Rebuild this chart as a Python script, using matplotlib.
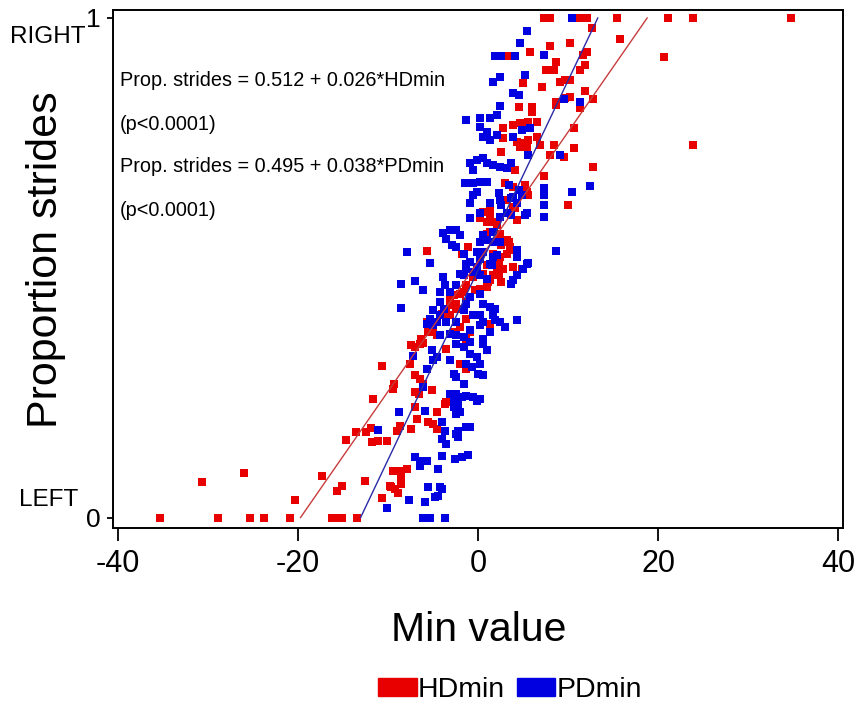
import matplotlib
matplotlib.use("Agg")
import matplotlib.pyplot as plt
from matplotlib.patches import Patch
import numpy as np

# ---------------- data ----------------
hd_x = [-35.3, -28.9, -25.3, -23.8, -20.9, -16.2, -15.7, -15.1, -13.4,
        -30.6, -26.0, -20.3, -17.3, -15.6, -15.1, -12.5, -10.6, -9.6, -9.4,
        -14.6, -13.5, -12.4, -11.9, -11.8, -11.1, -10.1, -11.6, -10.6, -9.3, -9.4, -9.0, -8.7,
        -7.4, -6.4, -7.0, -7.6, -7.0, -6.4, -6.1, -7.0, -6.6, -5.1, -6.8, -7.0, -5.5, -5.0, -4.6, -4.6, -3.5, -7.4,
        -8.7, -7.9, -8.5, -9.8, -8.5, -9.2, -8.9, -3.7,
        -4.0, -4.6, -5.1, -5.5, -6.3, -3.5, -3.1, -2.0, -1.3, -3.1, -2.4, -3.5, 1.3,
        -1.6, -0.5, 0.6, 1.3, 1.0, 2.1, 2.6, 4.9,
        1.3, 0.6, 1.3, 0.2, 1.0, 1.9, 1.3, 2.1, 2.3, -5.7, -1.8, -1.1, 1.0, 1.7, 1.1, 0.2, -1.3, -1.6,
        -0.9, -0.3, -2.7, -2.0, -1.3, -3.1, -2.4, -1.6, -3.1, -2.7, -2.0, -1.3, -0.9, -1.3, -4.6, -5.7, -5.0, -6.1,
        3.0, 5.2, 5.6, 4.1, 4.3, 2.6, 3.4, 3.6, 3.7, 2.4, 2.3, 2.8, 2.3, 7.3, 10.0,
        7.3, 8.0, 11.3, 12.1, 15.4, 21.1, 23.9, 34.7,
        15.8, 20.6, 12.6, 10.2, 5.8, 3.4, 8.0, 12.1, 11.7, 8.7, 11.9, 11.3, 7.6, 8.4, 10.2, 9.1, 9.7, 5.0, 7.1,
        11.9, 12.8, 10.2, 9.7, 8.7, 11.3, 4.5, 6.0, 6.0, 2.8, 3.9, 4.7, 5.6, 6.5, 10.6, 2.8, 4.3, 5.0, 5.6, 4.7,
        5.4, 6.5, 6.9, 8.4, 10.6, 2.6, 8.0, 9.5, 12.8, 4.1, 3.9, 5.4, 3.2, 3.9, 1.0, 2.4, 3.2, 1.7, 2.1, 3.2, 3.9,
        23.9, 8.7]
hd_y = [0, 0, 0, 0, 0, 0, 0, 0, 0,
        0.071, 0.090, 0.035, 0.084, 0.054, 0.064, 0.074, 0.039, 0.061, 0.094,
        0.156, 0.172, 0.172, 0.179, 0.152, 0.154, 0.154, 0.238, 0.303, 0.268, 0.258, 0.174, 0.184,
        0.345, 0.347, 0.341, 0.307, 0.285, 0.278, 0.268, 0.251, 0.248, 0.255, 0.198, 0.221, 0.191, 0.188, 0.178, 0.211, 0.231, 0.178,
        0.094, 0.098, 0.084, 0.064, 0.068, 0.058, 0.049, 0.228,
        0.408, 0.391, 0.378, 0.371, 0.358, 0.338, 0.315, 0.308, 0.298, 0.438, 0.428, 0.418, 0.388,
        0.488, 0.482, 0.488, 0.475, 0.462, 0.502, 0.472, 0.498,
        0.622, 0.612, 0.605, 0.599, 0.592, 0.592, 0.572, 0.585, 0.562, 0.534, 0.528, 0.542, 0.505, 0.485, 0.472, 0.458, 0.465, 0.452,
        0.441, 0.455, 0.445, 0.448, 0.431, 0.425, 0.418, 0.418, 0.405, 0.371, 0.381, 0.398, 0.371, 0.358, 0.365, 0.391, 0.371, 0.350,
        0.669, 0.665, 0.645, 0.619, 0.595, 0.545, 0.552, 0.542, 0.535, 0.522, 0.508, 0.498, 0.485, 0.684, 0.625,
        1, 1, 1, 1, 1, 1, 1, 1,
        0.957, 0.921, 0.979, 0.949, 0.932, 0.924, 0.943, 0.932, 0.926, 0.912, 0.906, 0.896, 0.896, 0.896, 0.876, 0.872, 0.876, 0.869, 0.861,
        0.853, 0.837, 0.842, 0.839, 0.826, 0.819, 0.822, 0.821, 0.812, 0.779, 0.786, 0.789, 0.792, 0.792, 0.779, 0.759, 0.752, 0.749, 0.756, 0.742,
        0.742, 0.762, 0.745, 0.745, 0.739, 0.732, 0.725, 0.722, 0.702, 0.695, 0.662, 0.652, 0.635, 0.622, 0.568, 0.568, 0.555, 0.528, 0.508, 0.528, 0.502,
        0.745, 0.832]

pd_x = [-6.1, -5.6, -5.3, -3.7,
        -10.1, -11.1, -8.8, -7.7, -5.5, -4.2, -4.4, -4.8, -5.9, -4.0,
        -7.0, -6.4, -6.4, -5.7, -4.0, -2.6, -1.8, -1.1, -4.4,
        -7.2, -6.1, -5.9, -4.0, -3.7, -4.0, -3.5,
        -3.1, -2.4, -1.8, -2.7, -2.2, -1.3, -0.5, -0.1, -2.7, -2.0, -1.6, -2.7, -2.4, -2.2, -2.2, -1.3, -0.9, -2.4, -2.4, 0.2, 0.0, 0.6,
        -2.4, -1.6, -0.9, -0.1, 0.2, -0.7, -1.3, -3.1, -4.6, -5.1, 0.6, 1.0, -5.0, -3.1, -0.9, -1.6, -5.0, -5.7,
        -4.2, -5.0, -5.3, -5.7, -0.9, -1.3, -1.6, 0.6, 1.3, 1.9, 0.6, 1.9, 3.0, 4.3,
        -3.8, -4.2, -4.6, -3.5, -2.4, -0.5, 0.2, 1.7, 0.2, -4.2, -2.4, -0.9, 0.6, 1.3,
        -8.5, -7.0, -6.1, -8.5, -3.9, -3.7, -4.2, -3.1, -2.4, -1.6, -1.3, -0.1, -2.0, 0.2,
        -0.1, 0.2, -0.9, -1.3, -0.5, 0.2, 1.0, 1.7, 1.5, 3.9, 4.3, 5.4, 5.0, -5.3, -7.9,
        -3.9, -3.1, -2.4, -2.0, -3.5, -2.9, -2.4, 0.6, 0.2, 1.0, 1.7, 1.7,
        -1.4, -0.5, 0.2, 1.0, -0.1, -0.5, -0.9, -0.9, 0.2, 2.3, 3.4, 3.7, 4.5, 4.9, 2.6, 2.4, 3.7, 5.2,
        7.3, 7.3, 7.3, 7.3, 10.4, 12.4, 8.6, 4.3, 4.3, 2.4, 2.1, 5.6, 3.7, 2.4,
        10.4, 5.4, 4.7, 1.9, 2.6, 4.1, 7.3, 2.4, 1.7, 5.2, 3.9, 4.5, 9.5, 11.3, 2.4, 2.1, 0.2, 1.3, -1.3, 0.2,
        1.0, 0.6, 1.3, 4.9, 5.8, 2.1, 3.9, 5.6, 9.1,
        -0.9, -0.1, 0.6, 1.0, -0.5, 1.7, 2.4, 3.2, 3.7, 1.3, 2.4, 3.9, 4.3, 3.2, 5.4, -1.6, 0.6, 1.3]
pd_y = [0, 0, 0, 0,
        0.019, 0.175, 0.211, 0.035, 0.062, 0.061, 0.044, 0.041, 0.031, 0.058,
        0.121, 0.114, 0.104, 0.114, 0.124, 0.118, 0.121, 0.126, 0.098,
        0.323, 0.261, 0.214, 0.191, 0.174, 0.158, 0.148,
        0.248, 0.248, 0.241, 0.231, 0.228, 0.244, 0.241, 0.234, 0.221, 0.211, 0.268, 0.288, 0.281, 0.174, 0.161, 0.181, 0.182, 0.208, 0.168, 0.238, 0.288, 0.285,
        0.348, 0.341, 0.328, 0.321, 0.308, 0.301, 0.308, 0.315, 0.321, 0.335, 0.348, 0.335, 0.385, 0.368, 0.375, 0.361, 0.315, 0.298,
        0.431, 0.415, 0.398, 0.388, 0.441, 0.428, 0.415, 0.428, 0.421, 0.418, 0.391, 0.395, 0.381, 0.396,
        0.418, 0.405, 0.391, 0.391, 0.391, 0.405, 0.405, 0.405, 0.385, 0.365, 0.365, 0.351, 0.358, 0.371,
        0.468, 0.474, 0.455, 0.420, 0.482, 0.465, 0.452, 0.452, 0.465, 0.485, 0.508, 0.502, 0.488, 0.448,
        0.532, 0.518, 0.512, 0.498, 0.492, 0.485, 0.478, 0.522, 0.505, 0.475, 0.485, 0.508, 0.498, 0.510, 0.532,
        0.569, 0.575, 0.575, 0.565, 0.558, 0.545, 0.542, 0.565, 0.552, 0.555, 0.552, 0.572,
        0.669, 0.669, 0.672, 0.672, 0.652, 0.645, 0.629, 0.599, 0.609, 0.649, 0.665, 0.639, 0.655, 0.645, 0.625, 0.602, 0.605, 0.605,
        0.659, 0.645, 0.625, 0.602, 0.652, 0.664, 0.533, 0.535, 0.522, 0.552, 0.525, 0.510, 0.468, 0.391,
        1.0, 0.973, 0.949, 0.924, 0.924, 0.924, 0.926, 0.882, 0.872, 0.886, 0.850, 0.846, 0.837, 0.832, 0.824, 0.806, 0.799, 0.799, 0.796, 0.782,
        0.772, 0.762, 0.756, 0.776, 0.779, 0.766, 0.762, 0.725, 0.725,
        0.709, 0.715, 0.719, 0.709, 0.695, 0.705, 0.702, 0.699, 0.709, 0.629, 0.635, 0.642, 0.629, 0.609, 0.609, 0.528, 0.532, 0.508]

# regression equations printed on the chart
hd_fit = (0.512, 0.026)
pd_fit = (0.495, 0.038)
eq_texts = ["Prop. strides = 0.512 + 0.026*HDmin", "(p<0.0001)",
            "Prop. strides = 0.495 + 0.038*PDmin", "(p<0.0001)"]
x_ticks = [-40, -20, 0, 20, 40]
y_ticks = [0, 1]
y_side_labels = ["LEFT", "RIGHT"]
series_names = ["HDmin", "PDmin"]

# ---------------- styling ----------------
FONT = "Liberation Sans"
plt.rcParams["font.family"] = [FONT, "DejaVu Sans"]

RED = "#e80000"
BLUE = "#0000e0"
W, H = 857, 707
fig = plt.figure(figsize=(W / 100, H / 100), dpi=100)
ax = fig.add_axes([113 / W, 1 - 528 / H, (843 - 113) / W, (528 - 10) / H])

ax.plot(hd_x, hd_y, "s", color=RED, ms=5.6, mew=0, zorder=2)
ax.plot(pd_x, pd_y, "s", color=BLUE, ms=5.6, mew=0, zorder=3)

for (a, b), col in [(hd_fit, "#c83c3c"), (pd_fit, "#2a2aa8")]:
    xs = np.array([(0 - a) / b, (1 - a) / b])
    ax.plot(xs, a + b * xs, "-", color=col, lw=1.0, zorder=4)

ax.set_xlim(-40.5, 40.5)
ax.set_ylim(-0.021, 1.016)
ax.set_xticks(x_ticks)
ax.set_xticklabels([str(t) for t in x_ticks], fontsize=22)
ax.set_yticks(y_ticks)
ax.set_yticklabels([str(t) for t in y_ticks], fontsize=19)
ax.tick_params(axis="x", direction="out", length=9, width=1.3, pad=6)
ax.tick_params(axis="y", direction="out", length=4, width=1.3, pad=5)
for s in ax.spines.values():
    s.set_linewidth(1.4)


def fx(px):
    return px / W


def fy(py):
    return 1 - py / H


fig.text(fx(48), fy(37), y_side_labels[1], ha="center", va="center", fontsize=17.5)
fig.text(fx(49), fy(500), y_side_labels[0], ha="center", va="center", fontsize=17.5)
fig.text(fx(46), fy(260), "Proportion strides", ha="center", va="center", rotation=90, fontsize=31)
fig.text(fx(479), fy(630), "Min value", ha="center", va="center", fontsize=29.5)

for t, py in zip(eq_texts, [81, 125, 166, 210]):
    fig.text(fx(120), fy(py), t, ha="left", va="center", fontsize=14.3)

handles = [Patch(color=RED, label=series_names[0]), Patch(color=BLUE, label=series_names[1])]
fig.legend(handles=handles, loc="center", bbox_to_anchor=(fx(510), fy(690)), ncol=2,
           frameon=False, handlelength=1.35, handleheight=0.55,
           handletextpad=0.05, columnspacing=0.4, prop={"family": FONT, "size": 20.5})

fig.savefig("out.png", dpi=100)
